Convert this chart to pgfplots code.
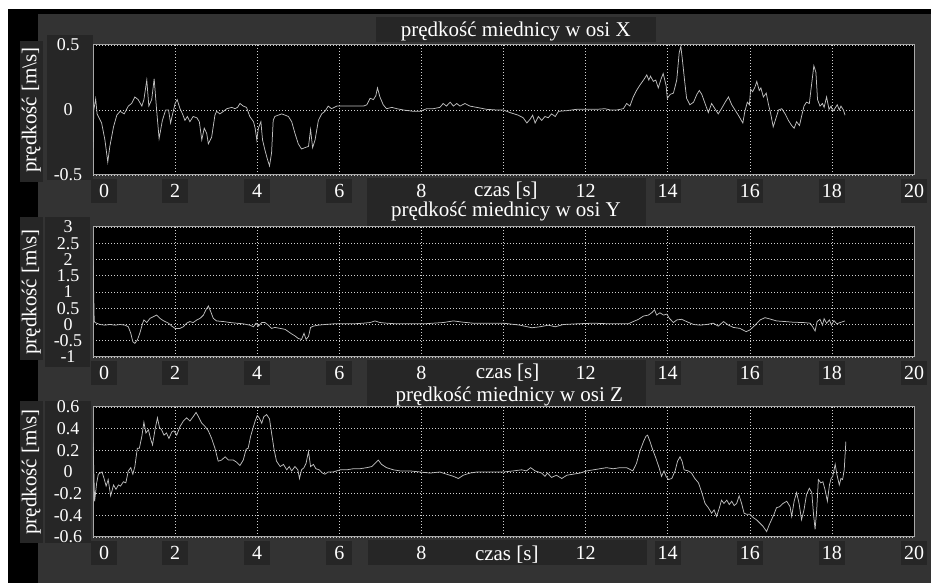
\documentclass[border=0pt]{standalone}
\usepackage{pgfplots}
\pgfplotsset{compat=1.18}
\usepackage{fontspec}
\setmainfont{Liberation Serif}
\definecolor{bgg}{HTML}{333333}
\definecolor{boxg}{HTML}{262626}
\definecolor{framec}{HTML}{A8A8A8}
\definecolor{gridc}{HTML}{D0D0D0}
\definecolor{linec}{HTML}{BEBEBE}

\pgfplotsset{
 every axis title/.style={at={(0.5,1)}, anchor=base},
 myax/.style={
  scale only axis, width=821pt, height=130pt, anchor=south west,
  xmin=0, xmax=20, xtick={2,4,...,20},
  xticklabels={2,4,6,8,,12,14,16,18,20},
  extra x ticks={0}, extra x tick labels={0},
  extra x tick style={grid=none, xticklabel style={xshift=11pt}},
  axis background/.style={fill=black},
  axis line style={draw=framec, line width=1pt},
  grid=major,
  major grid style={draw=gridc, line width=0.6pt, dash pattern=on 1pt off 2pt},
  major tick length=0pt,
  tick style={draw=none},
  tick label style={text=white},
  xticklabel style={font=\fontsize{20}{24}\selectfont, fill=boxg, minimum width=26pt, minimum height=24pt, inner sep=0pt, anchor=north, yshift=-4pt},
  yticklabel style={font=\fontsize{18}{20}\selectfont, anchor=center, xshift=-25pt, inner sep=0pt},
  label style={font=\fontsize{21}{25}\selectfont, text=white},
  title style={font=\fontsize{21}{25}\selectfont, text=white, anchor=base, inner sep=0pt},
  ylabel={prędkość [m\textbackslash s]},
  ylabel style={at={(axis description cs:-0.075,0.5)}, anchor=center, inner sep=0pt},
  xlabel={czas [s]},
  xlabel style={anchor=base, inner sep=0pt},
 },
 dat/.style={linec, line width=0.75pt, mark=none},
}

\begin{document}
\begin{tikzpicture}
\path[use as bounding box] (0pt,0pt) rectangle (931pt,583pt);
\fill[white] (0pt,0pt) rectangle (931pt,583pt);
\fill[black] (8pt,0pt) rectangle (931pt,574pt);
\fill[bgg] (38pt,0pt) rectangle (931pt,569pt);
% label boxes
\fill[boxg] (20pt,401pt) rectangle (43pt,542pt);
\fill[boxg] (47pt,403pt) rectangle (93pt,548pt);
\fill[boxg] (376pt,541pt) rectangle (656pt,566pt);
\fill[boxg] (367pt,356pt) rectangle (646pt,405pt);
\fill[boxg] (20pt,223pt) rectangle (43pt,366pt);
\fill[boxg] (45pt,216pt) rectangle (90pt,366pt);
\fill[boxg] (367pt,176pt) rectangle (646pt,223pt);
\fill[boxg] (20pt,40pt) rectangle (43pt,182pt);
\fill[boxg] (45pt,40pt) rectangle (91pt,182pt);
\fill[boxg] (368pt,18pt) rectangle (647pt,43pt);

% ---------------- X ----------------
\begin{axis}[myax, at={(93pt,408pt)},
  ymin=-0.5, ymax=0.5, ytick={-0.5,0,0.5}, yticklabels={-0.5,0,0.5},
  title={prędkość miednicy w osi X},
  title style={at={(axis description cs:0.515,1.064)}},
  xlabel style={at={(axis description cs:0.503,-0.167)}}]
\addplot[dat] coordinates {
(0,-0.29)(0.02,0.0)(0.065,0.085)(0.1,-0.03)(0.21,-0.10)(0.29,-0.23)(0.36,-0.40)(0.41,-0.28)
(0.5,-0.13)(0.58,-0.04)(0.66,-0.01)(0.76,-0.03)(0.86,0.03)(0.94,0.05)(1.02,0.10)(1.10,0.08)
(1.19,0.03)(1.24,0.08)(1.31,0.23)(1.36,0.03)(1.43,0.08)(1.49,0.24)(1.55,0.0)(1.61,-0.22)
(1.69,-0.08)(1.77,0.0)(1.84,0.0)(1.89,-0.10)(1.94,-0.03)(2.0,0.05)(2.05,0.08)(2.12,0.01)
(2.18,-0.03)(2.24,-0.08)(2.30,-0.05)(2.36,-0.09)(2.44,-0.05)(2.53,-0.06)(2.59,-0.09)(2.65,-0.23)
(2.71,-0.14)(2.77,-0.18)(2.81,-0.26)(2.89,-0.21)(2.97,-0.04)(3.01,-0.01)(3.09,-0.03)(3.18,-0.01)
(3.26,0.01)(3.38,0.02)(3.46,0.01)(3.52,0.02)(3.58,0.05)(3.66,0.03)(3.74,0.02)(3.82,-0.05)
(3.91,-0.09)(3.95,-0.14)(3.99,-0.23)(4.03,-0.14)(4.09,-0.09)(4.13,-0.23)(4.19,-0.31)(4.25,-0.38)
(4.30,-0.43)(4.35,-0.33)(4.39,-0.08)(4.43,-0.05)(4.51,-0.04)(4.60,-0.03)(4.68,-0.04)(4.76,-0.05)
(4.84,-0.09)(4.92,-0.18)(5.0,-0.26)(5.08,-0.30)(5.16,-0.29)(5.25,-0.28)(5.30,-0.15)(5.35,-0.29)
(5.41,-0.23)(5.49,-0.08)(5.57,-0.03)(5.65,-0.01)(5.73,0.03)(5.81,0.01)(5.94,0.03)(6.10,0.03)
(6.26,0.03)(6.42,0.03)(6.59,0.03)(6.67,0.04)(6.75,0.09)(6.83,0.08)(6.89,0.11)(6.93,0.17)
(6.99,0.10)(7.07,0.04)(7.15,0.01)(7.28,0.02)(7.40,0.01)(7.56,0.0)(7.80,-0.01)(7.97,-0.01)
(8.13,0.01)(8.29,0.01)(8.45,0.02)(8.53,0.05)(8.61,0.03)(8.70,0.06)(8.78,0.03)(8.86,0.05)
(8.94,0.03)(9.06,0.05)(9.18,0.03)(9.35,0.02)(9.59,0.005)(9.83,0)(10.0,0)(10.16,-0.02)
(10.36,-0.04)(10.48,-0.06)(10.57,-0.10)(10.65,-0.07)(10.71,-0.04)(10.77,-0.10)(10.85,-0.05)(10.93,-0.08)
(11.01,-0.05)(11.09,-0.06)(11.17,-0.03)(11.26,-0.05)(11.34,-0.01)(11.54,-0.005)(11.78,0.005)(12.03,0.005)
(12.27,0.005)(12.47,0.01)(12.60,0)(12.76,0)(12.92,0.01)(13.0,0.05)(13.08,0.03)(13.16,0.10)
(13.24,0.15)(13.32,0.19)(13.41,0.23)(13.49,0.27)(13.54,0.23)(13.58,0.26)(13.65,0.22)(13.71,0.23)
(13.77,0.17)(13.84,0.24)(13.89,0.28)(13.96,0.19)(13.99,0.09)(14.06,0.12)(14.14,0.13)(14.22,0.23)
(14.28,0.44)(14.32,0.49)(14.36,0.38)(14.41,0.23)(14.46,0.09)(14.54,0.04)(14.63,0.06)(14.71,0.12)
(14.77,0.15)(14.83,0.12)(14.91,0.05)(14.99,-0.02)(15.07,0.05)(15.15,0.01)(15.23,-0.03)(15.31,0.01)
(15.40,0.06)(15.48,0.10)(15.56,0.04)(15.64,0.0)(15.72,-0.04)(15.83,-0.10)(15.88,-0.01)(15.94,0.06)
(15.99,0.04)(16.02,0.16)(16.07,0.14)(16.13,0.18)(16.17,0.22)(16.23,0.15)(16.27,0.17)(16.33,0.10)
(16.40,0.13)(16.45,0.05)(16.51,-0.03)(16.57,-0.13)(16.64,-0.06)(16.70,0.0)(16.78,0.01)(16.86,-0.03)
(16.94,-0.08)(17.02,-0.12)(17.08,-0.14)(17.14,-0.09)(17.21,-0.12)(17.26,-0.05)(17.32,0.03)(17.38,0.06)
(17.45,0.05)(17.51,0.21)(17.56,0.34)(17.61,0.29)(17.65,0.08)(17.71,0.03)(17.77,0.05)(17.81,0.02)
(17.87,0.10)(17.93,0.005)(17.98,0.03)(18.02,-0.01)(18.07,0.01)(18.13,0.04)(18.18,0.0)(18.22,0.03)
(18.28,0.0)(18.32,-0.04)
};
\end{axis}

% ---------------- Y ----------------
\begin{axis}[myax, at={(93pt,226pt)},
  ymin=-1, ymax=3, ytick={-1,-0.5,0,0.5,1,1.5,2,2.5,3},
  yticklabels={-1,-0.5,0,0.5,1,1.5,2,2.5,3},
  title={prędkość miednicy w osi Y},
  title style={at={(axis description cs:0.503,1.079)}},
  xlabel style={at={(axis description cs:0.505,-0.162)}}]
\addplot[dat] coordinates {
(0,2.0)(0.03,0.1)(0.05,0.06)(0.17,0.0)(0.29,-0.02)(0.41,0.0)(0.54,-0.02)(0.66,0.0)
(0.78,-0.02)(0.86,-0.07)(0.92,-0.27)(0.97,-0.53)(1.02,-0.58)(1.08,-0.48)(1.14,-0.27)(1.21,0.04)
(1.24,0.14)(1.31,0.06)(1.39,0.19)(1.47,0.24)(1.55,0.29)(1.63,0.19)(1.71,0.12)(1.84,0.04)
(1.92,-0.05)(2.0,-0.12)(2.12,-0.12)(2.20,-0.07)(2.28,0.04)(2.36,0.09)(2.44,0.06)(2.53,0.14)
(2.61,0.19)(2.69,0.29)(2.75,0.45)(2.81,0.57)(2.87,0.39)(2.93,0.19)(3.01,0.11)(3.18,0.09)
(3.34,0.06)(3.50,0.04)(3.66,0.02)(3.82,-0.02)(3.91,-0.07)(3.97,0.04)(4.03,-0.05)(4.11,0.06)
(4.19,0.06)(4.27,-0.02)(4.35,-0.12)(4.43,-0.09)(4.56,-0.12)(4.68,-0.15)(4.76,-0.22)(4.84,-0.29)
(4.92,-0.35)(5.0,-0.43)(5.08,-0.46)(5.14,-0.27)(5.19,-0.46)(5.25,-0.37)(5.30,-0.09)(5.37,-0.05)
(5.49,-0.02)(5.65,0.0)(5.85,0.02)(6.10,0.02)(6.34,0.02)(6.59,0.04)(6.75,0.06)(6.87,0.11)
(6.99,0.06)(7.15,0.04)(7.40,0.02)(7.72,0.02)(8.05,0.02)(8.29,0.04)(8.53,0.06)(8.78,0.11)
(9.02,0.07)(9.26,0.04)(9.59,0.04)(10.0,0.04)(10.40,-0.02)(10.69,-0.10)(10.89,-0.07)(11.09,-0.02)
(11.26,-0.07)(11.46,0.0)(11.78,0.02)(12.19,0.04)(12.60,0.02)(13.04,0.02)(13.16,0.09)(13.29,0.16)
(13.41,0.26)(13.53,0.29)(13.61,0.36)(13.68,0.45)(13.73,0.29)(13.81,0.36)(13.90,0.29)(13.98,0.32)
(14.04,0.19)(14.14,0.06)(14.22,0.14)(14.34,0.16)(14.46,0.09)(14.63,0.0)(14.79,-0.02)(14.95,0.0)
(15.11,0.04)(15.23,-0.05)(15.36,0.09)(15.48,-0.02)(15.60,-0.09)(15.76,-0.12)(15.91,-0.22)(16.0,-0.17)
(16.13,-0.02)(16.25,0.14)(16.37,0.21)(16.49,0.17)(16.65,0.11)(16.86,0.09)(17.06,0.07)(17.30,0.06)
(17.47,0.04)(17.53,-0.07)(17.59,-0.20)(17.64,0.09)(17.71,0.16)(17.77,-0.02)(17.81,0.18)(17.87,0.04)
(17.94,0.14)(17.99,-0.02)(18.05,0.12)(18.12,0.02)(18.20,0.06)(18.32,0.11)
};
\end{axis}

% ---------------- Z ----------------
\begin{axis}[myax, at={(93pt,46pt)},
  ymin=-0.6, ymax=0.6, ytick={-0.6,-0.4,-0.2,0,0.2,0.4,0.6},
  yticklabels={-0.6,-0.4,-0.2,0,0.2,0.4,0.6},
  title={prędkość miednicy w osi Z},
  title style={at={(axis description cs:0.507,1.046)}},
  xlabel style={at={(axis description cs:0.504,-0.177)}}]
\addplot[dat] coordinates {
(0,0.27)(0.04,-0.27)(0.09,-0.10)(0.13,-0.02)(0.17,-0.01)(0.22,0.0)(0.27,-0.06)(0.32,-0.13)
(0.37,-0.07)(0.43,-0.22)(0.50,-0.12)(0.56,-0.16)(0.62,-0.12)(0.67,-0.13)(0.74,-0.09)(0.80,-0.10)
(0.86,0.01)(0.92,0.04)(0.97,-0.02)(1.02,0.05)(1.08,0.22)(1.13,0.22)(1.19,0.33)(1.24,0.46)
(1.29,0.36)(1.35,0.39)(1.40,0.31)(1.45,0.25)(1.51,0.39)(1.57,0.50)(1.62,0.41)(1.67,0.39)
(1.73,0.34)(1.79,0.36)(1.85,0.31)(1.92,0.37)(1.97,0.38)(2.04,0.34)(2.12,0.42)(2.20,0.47)
(2.28,0.50)(2.36,0.47)(2.44,0.51)(2.51,0.55)(2.57,0.51)(2.65,0.45)(2.73,0.42)(2.81,0.38)
(2.89,0.31)(2.97,0.22)(3.05,0.10)(3.13,0.11)(3.22,0.14)(3.30,0.11)(3.42,0.11)(3.50,0.09)
(3.58,0.06)(3.66,0.11)(3.73,0.21)(3.78,0.22)(3.84,0.33)(3.91,0.42)(3.95,0.47)(4.0,0.52)
(4.05,0.50)(4.11,0.45)(4.16,0.51)(4.23,0.53)(4.30,0.49)(4.35,0.36)(4.41,0.21)(4.47,0.10)
(4.56,0.05)(4.64,0.07)(4.72,0.02)(4.78,0.05)(4.84,0.01)(4.92,0.05)(4.99,0.02)(5.03,-0.06)
(5.08,0.02)(5.14,0.04)(5.19,0.08)(5.25,0.19)(5.30,0.05)(5.37,0.07)(5.43,0.03)(5.51,0.02)
(5.59,-0.01)(5.65,-0.02)(5.73,0.0)(5.85,0.0)(6.02,0.02)(6.18,0.02)(6.34,0.03)(6.50,0.03)
(6.67,0.04)(6.79,0.05)(6.87,0.08)(6.95,0.11)(7.03,0.07)(7.15,0.04)(7.32,0.02)(7.48,0.01)
(7.72,0.01)(7.97,0.0)(8.21,-0.01)(8.45,0.0)(8.61,-0.02)(8.78,-0.04)(8.90,-0.06)(9.02,-0.03)
(9.18,-0.01)(9.35,0.0)(9.67,0.0)(10.0,0.0)(10.24,0.01)(10.44,0.02)(10.56,0.01)(10.66,0.04)
(10.77,0.01)(10.93,-0.01)(11.01,-0.04)(11.07,-0.01)(11.17,-0.05)(11.29,-0.03)(11.42,-0.06)(11.54,-0.03)
(11.70,-0.02)(11.86,-0.01)(12.03,0.01)(12.19,0.02)(12.35,0.03)(12.51,0.04)(12.67,0.03)(12.84,0.04)
(13.0,0.04)(13.15,0.01)(13.24,0.08)(13.32,0.19)(13.41,0.28)(13.47,0.33)(13.51,0.34)(13.57,0.28)
(13.63,0.21)(13.71,0.13)(13.79,0.04)(13.85,-0.04)(13.91,0.01)(13.96,-0.04)(14.02,-0.07)(14.10,-0.06)
(14.18,0.01)(14.24,0.10)(14.30,0.14)(14.35,0.10)(14.40,0.02)(14.50,0.01)(14.58,-0.01)(14.66,-0.06)
(14.75,-0.10)(14.83,-0.19)(14.91,-0.29)(14.99,-0.33)(15.07,-0.38)(15.13,-0.35)(15.19,-0.41)(15.26,-0.33)
(15.31,-0.26)(15.37,-0.29)(15.44,-0.26)(15.50,-0.30)(15.56,-0.27)(15.62,-0.31)(15.68,-0.29)(15.74,-0.22)
(15.80,-0.29)(15.86,-0.38)(15.92,-0.39)(16.0,-0.39)(16.08,-0.42)(16.16,-0.44)(16.24,-0.47)(16.32,-0.50)
(16.41,-0.55)(16.47,-0.49)(16.53,-0.44)(16.59,-0.39)(16.65,-0.33)(16.73,-0.32)(16.81,-0.29)(16.90,-0.27)
(16.98,-0.32)(17.02,-0.41)(17.08,-0.27)(17.14,-0.19)(17.20,-0.29)(17.26,-0.44)(17.32,-0.35)(17.38,-0.21)
(17.45,-0.15)(17.51,-0.19)(17.55,-0.38)(17.59,-0.53)(17.63,-0.35)(17.67,-0.07)(17.73,-0.10)(17.78,-0.09)
(17.83,-0.16)(17.89,-0.27)(17.94,-0.12)(17.98,-0.06)(18.02,-0.04)(18.08,0.07)(18.12,-0.02)(18.18,-0.12)
(18.22,-0.06)(18.26,-0.07)(18.30,0.02)(18.34,0.28)
};
\end{axis}
\end{tikzpicture}
\end{document}
